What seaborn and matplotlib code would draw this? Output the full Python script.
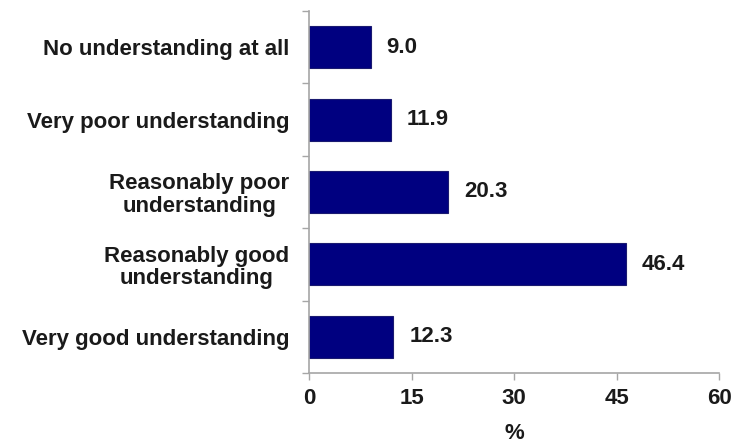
import matplotlib
matplotlib.use("Agg")
import matplotlib.pyplot as plt
import seaborn as sns
import pandas as pd
import numpy as np

categories = [
    "No understanding at all",
    "Very poor understanding",
    "Reasonably poor\nunderstanding",
    "Reasonably good\nunderstanding",
    "Very good understanding",
]
values = [9.0, 11.9, 20.3, 46.4, 12.3]
x_ticks = [0, 15, 30, 45, 60]

sns.set_theme(style="white")
plt.rcParams["font.family"] = ["Liberation Sans", "DejaVu Sans"]
plt.rcParams["font.weight"] = "bold"

df = pd.DataFrame({"category": categories, "value": values})

fig = plt.figure(figsize=(7.33, 4.44), dpi=100)
ax = fig.add_axes([0.4222, 0.16, 0.5588, 0.8152])

sns.barplot(data=df, y="category", x="value", orient="h", color="#000080",
            width=0.58, saturation=1, edgecolor="#1a1a70", linewidth=0.8, ax=ax)

fs = 16
text_color = "#1a1a1a"
for i, v in enumerate(values):
    ax.text(v + 2.3, i, f"{v:.1f}", va="center", ha="left",
            fontsize=fs, fontweight="bold", color=text_color)

ax.set_xlim(0, 60)
ax.set_ylim(len(categories) - 0.5, -0.5)
ax.set_xticks(x_ticks)
ax.set_xticklabels([str(t) for t in x_ticks], fontsize=fs,
                   fontweight="bold", color=text_color)
ax.set_yticks(range(len(categories)))
ax.set_yticklabels(categories, fontsize=fs, fontweight="bold",
                   color=text_color, ma="center", linespacing=1.1)
ax.set_yticks(np.arange(-0.5, len(categories), 1.0), minor=True)
ax.tick_params(axis="y", which="major", length=0, pad=14.5)
ax.tick_params(axis="y", which="minor", length=5, width=1, color="#a6a6a6",
               direction="out", left=True)
ax.tick_params(axis="x", which="major", length=5, width=1, color="#a6a6a6",
               direction="out", bottom=True, pad=6)

ax.set_xlabel("%", fontsize=fs, fontweight="bold", color=text_color, labelpad=10)
ax.set_ylabel("")

for side in ["top", "right"]:
    ax.spines[side].set_visible(False)
for side in ["left", "bottom"]:
    ax.spines[side].set_color("#a6a6a6")
    ax.spines[side].set_linewidth(1.2)

fig.savefig("out.png", dpi=100, facecolor="white")
